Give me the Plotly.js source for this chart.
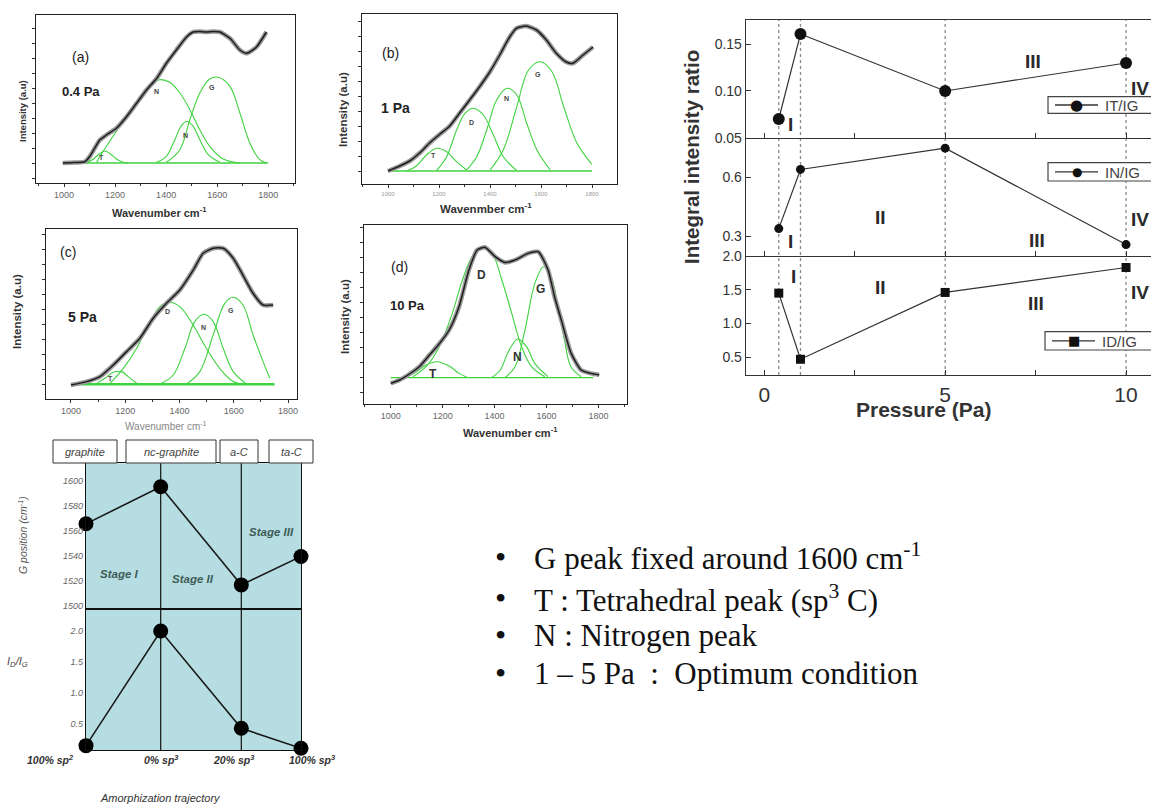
<!DOCTYPE html>
<html><head><meta charset="utf-8">
<script src="https://cdn.plot.ly/plotly-3.0.1.min.js"></script>
<style>html,body{margin:0;padding:0;background:#fff}#chart{width:1151px;height:805px}</style>
</head><body><div id="chart"></div>
<script>
// ---------------- DATA ----------------
// (a) 0.4 Pa spectrum
const aWn  = [995,1040,1081,1100,1140,1166,1205,1244,1284,1323,1363,1401,1440,1480,1506,1530,1558,1585,1611,1650,1689,1715,1754,1793];
const aInt = [0,0.5,1.3,6.3,23,28,34.7,46,59.7,73,84.7,99.7,113,126,131,131.5,131,131.5,131,124.7,113,109.7,116,131];
const aT_x = [1070,1093,1115,1138,1160,1182,1205,1228,1250];
const aT_y = [0,1,4,9,12,9,4,1,0];
const aD_x = [1127,1166,1205,1251,1297,1336,1375,1414,1454,1493,1532,1571,1624,1689];
const aD_y = [0.7,16.7,31.7,48.3,63.3,77.3,83.3,80.7,70,53.3,33.3,16.7,4,0];
const aN_x = [1362,1401,1434,1460,1480,1506,1532,1565,1610];
const aN_y = [0.7,6.7,23.3,37.3,41.7,36.7,23.3,8.3,0.7];
const aG_x = [1401,1454,1493,1532,1571,1604,1650,1689,1728,1767,1793];
const aG_y = [0.7,13.3,43.3,70,84,85.7,76.7,50,20,3.3,0];
const aBase_x = [1000,1800], aBase_y = [0,0];

// (b) 1 Pa spectrum
const bWn  = [1000,1046,1085,1124,1163,1203,1242,1281,1320,1359,1399,1438,1477,1503,1542,1582,1621,1660,1699,1725,1765,1804];
const bInt = [0,5,10,18,28,36.7,45,58,71,84.3,99,116,134,142.7,145,141,131,117.7,109,107.7,116,124];
const bT_x = [1072,1111,1151,1190,1230,1269,1308];
const bT_y = [0,5,16,22.7,19.3,9.3,1];
const bD_x = [1190,1230,1269,1302,1334,1374,1413,1452,1505];
const bD_y = [0.3,14.3,41,57.7,62.7,56,36,14.3,0.3];
const bN_x = [1308,1348,1387,1426,1466,1505,1544,1584,1636];
const bN_y = [1,14.3,41,71,82.7,76,47.7,21,1];
const bG_x = [1400,1452,1505,1551,1597,1643,1689,1741,1800];
const bG_y = [1,21,64.3,101,109.3,99.3,64.3,27.7,6.7];
const bBase_x = [1000,1800], bBase_y = [0,0];

// (c) 5 Pa spectrum
const cWn  = [1000,1058,1107,1156,1205,1254,1303,1352,1401,1450,1487,1524,1561,1598,1634,1671,1708,1745];
const cInt = [-0.7,2.7,7.7,19.3,32.7,46,66,81,94.3,114,131,136,136,126,109,91,79.3,79.3];
const cT_x = [1094,1125,1156,1186,1211,1242];
const cT_y = [0.7,6,12,12.7,7.7,1];
const cD_x = [1144,1193,1242,1291,1328,1358,1401,1450,1499,1548,1598,1634];
const cD_y = [1,16,36,62.7,77.7,82,77.7,59.3,36,16,2.7,0];
const cN_x = [1328,1377,1420,1456,1490,1524,1561,1598,1647];
const cN_y = [0.3,9.3,36,62.7,70,62.7,36,12.7,0.3];
const cG_x = [1426,1475,1524,1567,1598,1634,1671,1708,1733];
const cG_y = [0.3,12.7,49.3,81,87,79.3,49.3,22.7,6];
const cBase_x = [1000,1750], cBase_y = [0,0];

// (d) 10 Pa spectrum
const dWn  = [1000,1034,1072,1110,1149,1187,1225,1263,1301,1333,1364,1402,1440,1479,1529,1568,1606,1631,1657,1695,1733,1771,1803];
const dInt = [-5.7,-2.3,3.7,11,22.7,34,47.7,71,107.7,127.7,130.3,121,115.3,117.7,124.3,126,107.7,81,57.7,24.3,7.7,4.3,2.7];
const dT_x = [1060,1098,1136,1180,1225,1263,1295];
const dT_y = [0.3,6,12.7,16,11.7,4.3,0.3];
const dD_x = [1085,1136,1187,1237,1276,1314,1352,1390,1428,1466,1504,1542,1593];
const dD_y = [1,11,31,64.3,97.7,121,129.3,124.3,97.7,64.3,31,11,1];
const dN_x = [1390,1422,1453,1489,1523,1555,1606];
const dN_y = [0.3,7.7,26,38.7,31,14.3,1];
const dG_x = [1441,1479,1517,1555,1589,1618,1644,1669,1694,1733];
const dG_y = [0.3,11,47.7,94.3,111,101,71,37.7,11,1];
const dBase_x = [1000,1780], dBase_y = [0,0];

// Integral intensity ratios vs pressure
const pressure = [0.4, 1, 5, 10];
const itig = [0.07, 0.161, 0.10, 0.130];
const inig = [0.339, 0.639, 0.747, 0.258];
const idig = [1.45, 0.47, 1.46, 1.83];
const ratioNames = ['IT/IG', 'IN/IG', 'ID/IG'];

// Amorphization trajectory (schematic)
const stageNames = ['graphite','nc-graphite','a-C','ta-C'];
const trajPos = [0, 74.7, 155.3, 215];
const gPosition = [1565.6, 1595.2, 1516.7, 1539.5];
const idigTraj = [0.157, 2.0, 0.436, 0.115];
const trajLabels = ['100% sp<sup>2</sup>','0% sp<sup>3</sup>','20% sp<sup>3</sup>','100% sp<sup>3</sup>'];

const bullets = ['G peak fixed around 1600 cm<sup>-1</sup>','T : Tetrahedral peak (sp<sup>3</sup> C)','N : Nitrogen peak','1 – 5 Pa  :  Optimum condition'];

// ---------------- HELPERS ----------------
const W = 1151, H = 805;
const px = x => x / W, py = y => 1 - y / H;
const SANS = 'Liberation Sans, Arial, sans-serif';
const SERIF = 'Liberation Serif, Times New Roman, serif';
const GREEN = '#3fd23f';

const traces = [];
function spectrum(xa, ya, wn, val, peaks, base, baseW) {
  traces.push({x: base[0], y: base[1], xaxis: xa, yaxis: ya, mode: 'lines', line: {color: GREEN, width: baseW}, showlegend: false, hoverinfo: 'skip'});
  peaks.forEach(p => traces.push({x: p[0], y: p[1], xaxis: xa, yaxis: ya, mode: 'lines', line: {color: GREEN, width: 1.1, shape: 'spline', smoothing: 1}, showlegend: false, hoverinfo: 'skip'}));
  traces.push({x: wn, y: val, xaxis: xa, yaxis: ya, mode: 'lines', line: {color: '#9a9a9a', width: 4.5, shape: 'spline', smoothing: 0.6}, showlegend: false, hoverinfo: 'skip'});
  traces.push({x: wn, y: val, xaxis: xa, yaxis: ya, mode: 'lines', line: {color: '#1e1e1e', width: 1.5, shape: 'spline', smoothing: 0.6}, showlegend: false});
}
spectrum('x', 'y', aWn, aInt, [[aT_x, aT_y], [aD_x, aD_y], [aN_x, aN_y], [aG_x, aG_y]], [aBase_x, aBase_y], 1.3);
spectrum('x2', 'y2', bWn, bInt, [[bT_x, bT_y], [bD_x, bD_y], [bN_x, bN_y], [bG_x, bG_y]], [bBase_x, bBase_y], 1.3);
spectrum('x3', 'y3', cWn, cInt, [[cT_x, cT_y], [cD_x, cD_y], [cN_x, cN_y], [cG_x, cG_y]], [cBase_x, cBase_y], 2.5);
spectrum('x4', 'y4', dWn, dInt, [[dT_x, dT_y], [dD_x, dD_y], [dN_x, dN_y], [dG_x, dG_y]], [dBase_x, dBase_y], 1.3);

traces.push({x: pressure, y: itig, xaxis: 'x5', yaxis: 'y5', mode: 'lines+markers', name: ratioNames[0], showlegend: false,
  line: {color: '#333', width: 1.2}, marker: {symbol: 'circle', size: 12, color: '#111'}, cliponaxis: false});
traces.push({x: pressure, y: inig, xaxis: 'x6', yaxis: 'y6', mode: 'lines+markers', name: ratioNames[1], showlegend: false,
  line: {color: '#333', width: 1.2}, marker: {symbol: 'circle', size: 9, color: '#111'}, cliponaxis: false});
traces.push({x: pressure, y: idig, xaxis: 'x7', yaxis: 'y7', mode: 'lines+markers', name: ratioNames[2], showlegend: false,
  line: {color: '#333', width: 1.2}, marker: {symbol: 'square', size: 9, color: '#111'}, cliponaxis: false});

traces.push({x: trajPos, y: gPosition, xaxis: 'x8', yaxis: 'y8', mode: 'lines+markers', showlegend: false,
  line: {color: '#1a1a1a', width: 1.6}, marker: {size: 15, color: '#000'}, cliponaxis: false});
traces.push({x: trajPos, y: idigTraj, xaxis: 'x9', yaxis: 'y9', mode: 'lines+markers', showlegend: false,
  line: {color: '#1a1a1a', width: 1.6}, marker: {size: 15, color: '#000'}, cliponaxis: false});

// ---------------- AXES ----------------
function specX(l, r, range, anchor, tf) {
  return {domain: [px(l), px(r)], range: range, anchor: anchor, tickmode: 'linear', tick0: 1000, dtick: 200,
    ticks: 'outside', ticklen: 3, tickcolor: '#333', showline: true, mirror: true, linecolor: '#222', linewidth: 1.3,
    showgrid: false, zeroline: false, tickfont: tf,
    minor: {ticks: 'outside', ticklen: 2, dtick: 100, tickcolor: '#333'}};
}
function specY(top, bot, range, anchor) {
  return {domain: [py(bot), py(top)], range: range, anchor: anchor, showticklabels: false, tickmode: 'linear', tick0: 0, dtick: 15,
    ticks: 'outside', ticklen: 3, tickcolor: '#333', showline: true, mirror: true, linecolor: '#222', linewidth: 1.3,
    showgrid: false, zeroline: false};
}
const tfA = {family: SANS, size: 9, color: '#666'};
const tfB = {family: SANS, size: 6, color: '#999'};

const rX = [-0.506, 10.69];
function rightX(anchor, labels, mirror) {
  return {domain: [px(746), 1], range: rX, anchor: anchor, tickmode: 'linear', tick0: 0, dtick: 5,
    showticklabels: labels, minor: {ticks: 'inside', ticklen: 5, dtick: 2.5, tickcolor: '#333'},
    ticks: 'inside', ticklen: 5, tickcolor: '#333', showline: true, mirror: mirror, linecolor: '#333', linewidth: 1.3,
    showgrid: false, zeroline: false, tickfont: {family: SANS, size: 21, color: '#333'}};
}
function rightY(top, bot, range, anchor, vals, text) {
  return {domain: [py(bot), py(top)], range: range, anchor: anchor, tickmode: 'array', tickvals: vals, ticktext: text,
    ticks: 'inside', ticklen: 5, tickcolor: '#333', showline: true, mirror: false, linecolor: '#333', linewidth: 1.3,
    showgrid: false, zeroline: false, tickfont: {family: SANS, size: 14, color: '#333'}};
}

const layout = {
  width: W, height: H, margin: {l: 0, r: 0, t: 0, b: 0},
  paper_bgcolor: '#fff', plot_bgcolor: 'rgba(0,0,0,0)', showlegend: false,
  xaxis: specX(36, 295, [890, 1905], 'y', tfA),
  yaxis: specY(15, 183, [-20, 148], 'x'),
  xaxis2: specX(362, 617, [898, 1898], 'y2', tfB),
  yaxis2: specY(14, 184, [-13, 157], 'x2'),
  xaxis3: specX(46, 297, [908, 1833], 'y3', tfA),
  yaxis3: specY(229, 399, [-14.7, 155.3], 'x3'),
  xaxis4: specX(364, 627, [897, 1910], 'y4', tfA),
  yaxis4: specY(225, 404, [-26.3, 152.7], 'x4'),
  xaxis5: rightX('y5', false, true),
  yaxis5: rightY(20, 137.7, [0.05, 0.176], 'x5', [0.05, 0.10, 0.15], ['0.05', '0.10', '0.15']),
  xaxis6: rightX('y6', false, false),
  yaxis6: rightY(137.7, 256, [0.2, 0.8], 'x6', [0.3, 0.6], ['0.3', '0.6']),
  xaxis7: rightX('y7', true, false),
  yaxis7: rightY(256, 375, [0.237, 2.0], 'x7', [0.5, 1.0, 1.5, 2.0], ['0.5', '1.0', '1.5', '2.0']),
  xaxis8: {domain: [px(86), px(301)], range: [0, 215], anchor: 'y8', showticklabels: false, ticks: '', showline: true, mirror: true, linecolor: '#111', linewidth: 1.2, showgrid: false, zeroline: false},
  yaxis8: {domain: [py(608.3), py(463.3)], range: [1498, 1614], anchor: 'x8', tickmode: 'array', tickvals: [1500, 1520, 1540, 1560, 1580, 1600],
    ticktext: ['1500', '1520', '1540', '1560', '1580', '1600'], ticks: '', showline: true, mirror: true, linecolor: '#111', linewidth: 1.2, showgrid: false, zeroline: false,
    tickfont: {family: SANS, size: 9, color: '#666', style: 'italic'}},
  xaxis9: {domain: [px(86), px(301)], range: [0, 215], anchor: 'y9', showticklabels: false, ticks: '', showline: true, mirror: false, linecolor: '#111', linewidth: 1.2, showgrid: false, zeroline: false},
  yaxis9: {domain: [py(750), py(608.3)], range: [0.087, 2.365], anchor: 'x9', tickmode: 'array', tickvals: [0.5, 1.0, 1.5, 2.0],
    ticktext: ['0.5', '1.0', '1.5', '2.0'], ticks: '', showline: true, mirror: true, linecolor: '#111', linewidth: 1.2, showgrid: false, zeroline: false,
    tickfont: {family: SANS, size: 9, color: '#666', style: 'italic'}},
  shapes: [], annotations: []
};

// ---------------- SHAPES ----------------
layout.shapes.push({type: 'rect', xref: 'paper', yref: 'paper', x0: px(86), x1: px(301), y0: py(750), y1: py(463.3), fillcolor: '#b6dde2', line: {width: 0}, layer: 'below'});
[trajPos[1], trajPos[2]].forEach(v => layout.shapes.push({type: 'line', xref: 'x8', yref: 'paper', x0: v, x1: v, y0: py(750), y1: py(463.3), line: {color: '#111', width: 1.2}, layer: 'below'}));
const hdr = [[53, 117], [126, 216], [220, 258], [269, 313]];
hdr.forEach(h => layout.shapes.push({type: 'rect', xref: 'paper', yref: 'paper', x0: px(h[0]), x1: px(h[1]), y0: py(463), y1: py(440), fillcolor: '#fff', line: {color: '#333', width: 1}}));
pressure.forEach(p => layout.shapes.push({type: 'line', xref: 'x5', yref: 'paper', x0: p, x1: p, y0: py(375), y1: py(20), line: {color: '#8a8a8a', width: 1.3, dash: 'dot'}, layer: 'below'}));

// manual legend boxes for the ratio panels
const legBoxes = [[1048, 96.7, 113.3], [1048, 162.7, 181], [1045, 331.7, 350]];
const legSym = ['●', '●', '■'];
const legSymSize = [15, 12, 13];
legBoxes.forEach((b, i) => {
  layout.shapes.push({type: 'rect', xref: 'paper', yref: 'paper', x0: px(b[0]), x1: px(1165), y0: py(b[2]), y1: py(b[1]), fillcolor: '#fff', line: {color: '#444', width: 1.2}});
  const yc = (b[1] + b[2]) / 2;
  layout.shapes.push({type: 'line', xref: 'paper', yref: 'paper', x0: px(b[0] + 7), x1: px(b[0] + 50), y0: py(yc), y1: py(yc), line: {color: '#333', width: 1.3}});
});

// ---------------- ANNOTATIONS ----------------
const A = layout.annotations;
function ann(x, y, text, font, extra) {
  A.push(Object.assign({xref: 'paper', yref: 'paper', x: px(x), y: py(y), text: text, showarrow: false, xanchor: 'center', yanchor: 'middle', font: font}, extra || {}));
}
function dann(xa, ya, x, y, text, font) {
  A.push({xref: xa, yref: ya, x: x, y: y, text: text, showarrow: false, font: font});
}
const lbl = s => ({family: SANS, size: s, color: '#222'});
const bld = (s, c) => ({family: SANS, size: s, color: c || '#222', weight: 'bold'});

legBoxes.forEach((b, i) => {
  const yc = (b[1] + b[2]) / 2;
  ann(b[0] + 28.5, yc, legSym[i], {family: 'DejaVu Sans, sans-serif', size: legSymSize[i], color: '#111'});
  ann(b[0] + 55, yc + 0.5, ratioNames[i], {family: SANS, size: 15, color: '#444'}, {xanchor: 'left'});
});

// spectra panel labels
ann(80, 57, '(a)', lbl(14)); ann(81, 91, '0.4 Pa', bld(13));
ann(390, 53, '(b)', lbl(14)); ann(395, 108, '1 Pa', bld(14));
ann(68, 252, '(c)', lbl(14)); ann(82, 317, '5 Pa', bld(14));
ann(399, 267, '(d)', lbl(14)); ann(407, 306, '10 Pa', bld(13));
ann(22, 111, 'Intensity (a.u)', bld(9.5, '#333'), {textangle: -90});
ann(343, 110, 'Intensity (a.u)', bld(11.5, '#333'), {textangle: -90});
ann(17, 312, 'Intensity (a.u)', bld(11.5, '#333'), {textangle: -90});
ann(345, 317, 'Intensity (a.u)', bld(11.5, '#333'), {textangle: -90});
ann(159, 212, 'Wavenumber cm<sup>-1</sup>', bld(11, '#333'));
ann(486, 208, 'Wavenmber cm<sup>-1</sup>', bld(11.5, '#333'));
ann(166, 426, 'Wavenumber cm<sup>-1</sup>', {family: SANS, size: 10, color: '#888'});
ann(510, 432, 'Wavenumber cm<sup>-1</sup>', bld(11, '#333'));

const pk = {family: SANS, size: 7, color: '#444', weight: 'bold'};
const pkd = {family: SANS, size: 12, color: '#333', weight: 'bold'};
dann('x', 'y', 1362, 72, 'N', pk); dann('x', 'y', 1476, 28, 'N', pk); dann('x', 'y', 1580, 76, 'G', pk); dann('x', 'y', 1146, 6, 'T', pk);
dann('x2', 'y2', 1177, 15.7, 'T', pk); dann('x2', 'y2', 1328, 49, 'D', pk); dann('x2', 'y2', 1466, 72.7, 'N', pk); dann('x2', 'y2', 1590, 97, 'G', pk);
dann('x3', 'y3', 1355, 72.7, 'D', pk); dann('x3', 'y3', 1490, 56.7, 'N', pk); dann('x3', 'y3', 1588, 74, 'G', pk); dann('x3', 'y3', 1147, 6, 'T', pk);
dann('x4', 'y4', 1348, 102.7, 'D', pkd); dann('x4', 'y4', 1576, 89, 'G', pkd); dann('x4', 'y4', 1489, 21, 'N', pkd); dann('x4', 'y4', 1161, 3.7, 'T', pkd);

// right panel
ann(692, 157, 'Integral intensity ratio', bld(20.5, '#333'), {textangle: -90});
ann(923, 410, 'Pressure (Pa)', bld(21, '#333'));
const rom = bld(19, '#2a2a2a');
function rann(x, y, t) { A.push({xref: 'x5', yref: 'paper', x: x, y: py(y), text: t, showarrow: false, font: rom}); }
rann(0.73, 111.7, 'I'); rann(7.43, 49.3, 'III'); rann(10.38, 76, 'IV');
rann(3.2, 205, 'II'); rann(0.73, 229.3, 'I'); rann(7.54, 227.7, 'III'); rann(10.38, 207.3, 'IV');
rann(0.8, 276, 'I'); rann(3.2, 287.3, 'II'); rann(7.52, 303.3, 'III'); rann(10.38, 292.7, 'IV');

// bottom-left schematic
const it = (s, c) => ({family: SANS, size: s, color: c || '#444', style: 'italic'});
const hdrC = [85, 171, 239, 291];
stageNames.forEach((n, i) => ann(hdrC[i], 451.5, n, it(11)));
const stg = {family: SANS, size: 11.5, color: '#3d5b55', style: 'italic', weight: 'bold'};
ann(120, 574, 'Stage I', stg); ann(193, 579, 'Stage II', stg); ann(271, 532, 'Stage III', stg);
ann(22, 535, 'G position (cm<sup>-1</sup>)', it(10.5, '#555'), {textangle: -90});
ann(17, 662, 'I<sub>D</sub>/I<sub>G</sub>', it(11, '#444'));
const bx = [50, 161, 233, 312];
trajLabels.forEach((t, i) => ann(bx[i], 759, t, {family: SANS, size: 10.5, color: '#333', style: 'italic', weight: 'bold'}));
ann(160, 798, 'Amorphization trajectory', it(11, '#333'));

// bullet text
const by = [556.7, 598, 635, 673.3];
bullets.forEach((t, i) => {
  ann(500, by[i], '•', {family: SERIF, size: 32, color: '#111'});
  ann(531.7, by[i], t, {family: SERIF, size: 31, color: '#111'}, {xanchor: 'left'});
});

Plotly.newPlot('chart', traces, layout, {staticPlot: true, displayModeBar: false});
</script>
</body></html>
